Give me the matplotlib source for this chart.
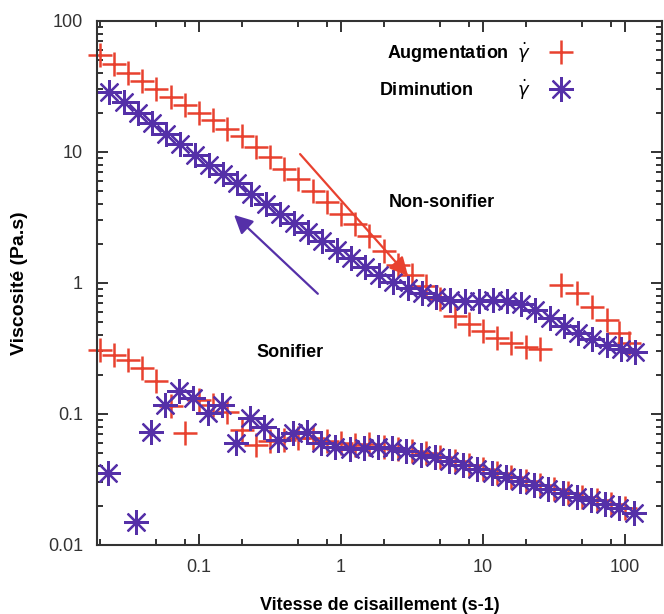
import matplotlib
matplotlib.use("Agg")
import matplotlib.pyplot as plt
from matplotlib.lines import Line2D
from matplotlib.ticker import LogLocator, NullFormatter, FixedLocator, FixedFormatter

# shear rates (s-1) for the "augmentation" (red) runs
rate_up = [0.0200, 0.0251, 0.0316, 0.0398, 0.0501, 0.0631, 0.0794, 0.100,
           0.126, 0.158, 0.200, 0.251, 0.316, 0.398, 0.501, 0.631, 0.794,
           1.00, 1.26, 1.58, 2.00, 2.51, 3.16, 3.98, 5.01, 6.31, 7.94, 10.0,
           12.6, 15.8, 20.0, 25.1]
# non-sonified, increasing rate
visc_up_ns = [55.0, 46.8, 39.8, 34.7, 30.2, 26.3, 22.9, 20.0, 17.4, 15.1, 13.2,
              11.0, 9.12, 7.41, 6.17, 5.01, 4.17, 3.39, 2.82, 2.29, 1.74, 1.38,
              1.15, 0.955, 0.759, 0.562, 0.490, 0.427, 0.380, 0.347, 0.324, 0.316]
# second red branch at high rate
rate_up_hi = [35.5, 45.7, 58.9, 74.1, 91.2, 107]
visc_up_hi = [0.966, 0.839, 0.656, 0.522, 0.415, 0.348]

# sonified, increasing rate
rate_up_s = [0.0200, 0.0251, 0.0316, 0.0398, 0.0501, 0.0631, 0.0794, 0.100,
             0.126, 0.158, 0.200, 0.251, 0.316, 0.398, 0.501, 0.631, 0.794,
             1.00, 1.26, 1.58, 2.00, 2.51, 3.16, 3.98, 5.01, 6.31, 7.94, 10.0,
             12.6, 15.8, 20.0, 25.1, 31.6, 39.8, 50.1, 63.1, 79.4, 100]
visc_up_s = [0.310, 0.282, 0.257, 0.224, 0.180, 0.115, 0.0716, 0.129, 0.117,
             0.104, 0.0759, 0.0575, 0.0617, 0.0631, 0.0661, 0.0661, 0.0617,
             0.0603, 0.0575, 0.0589, 0.0562, 0.0537, 0.0525, 0.0501, 0.0468,
             0.0437, 0.0407, 0.0380, 0.0355, 0.0331, 0.0309, 0.0288, 0.0269,
             0.0251, 0.0234, 0.0219, 0.0204, 0.0191]

# "diminution" (purple) runs
rate_down = [0.0234, 0.0295, 0.0372, 0.0468, 0.0589, 0.0741, 0.0933, 0.117,
             0.148, 0.186, 0.234, 0.295, 0.372, 0.468, 0.589, 0.741, 0.933,
             1.17, 1.48, 1.86, 2.34, 2.95, 3.72, 4.68, 5.89, 7.41, 9.33, 11.7,
             14.8, 18.6, 23.4, 29.5, 37.2, 46.8, 58.9, 74.1, 93.3, 117]
visc_down_ns = [28.8, 24.0, 20.0, 16.6, 13.8, 11.5, 9.55, 7.94, 6.76, 5.75,
                4.79, 3.98, 3.39, 2.88, 2.45, 2.09, 1.78, 1.55, 1.32, 1.15, 1.02,
                0.912, 0.832, 0.776, 0.741, 0.724, 0.724, 0.741, 0.724, 0.692,
                0.617, 0.537, 0.468, 0.417, 0.372, 0.339, 0.316, 0.295]

rate_down_s = [0.0229, 0.0363, 0.0457, 0.0575, 0.0724, 0.0912, 0.115, 0.145,
               0.182, 0.229, 0.288, 0.363, 0.457, 0.575, 0.724, 0.912, 1.15,
               1.45, 1.82, 2.29, 2.88, 3.63, 4.57, 5.75, 7.24, 9.12, 11.5, 14.5,
               18.2, 22.9, 28.8, 36.3, 45.7, 57.5, 72.4, 91.2, 115]
visc_down_s = [0.0355, 0.0151, 0.0724, 0.117, 0.151, 0.132, 0.102, 0.117,
               0.0603, 0.0933, 0.0794, 0.0631, 0.0716, 0.0724, 0.0603, 0.0562,
               0.0537, 0.0550, 0.0562, 0.0550, 0.0525, 0.0490, 0.0468, 0.0437,
               0.0407, 0.0380, 0.0355, 0.0331, 0.0309, 0.0288, 0.0269, 0.0251,
               0.0234, 0.0219, 0.0204, 0.0191, 0.0174]

x_ticks = [0.1, 1, 10, 100]
x_labels = ["0.1", "1", "10", "100"]
y_ticks = [0.01, 0.1, 1, 10, 100]
y_labels = ["0.01", "0.1", "1", "10", "100"]

RED = "#e8412f"
PURPLE = "#5530a8"
AX_COL = "#333333"
BOLD = {"family": "Liberation Sans", "weight": "bold"}

fig = plt.figure(figsize=(6.64, 6.14), dpi=100)
ax = fig.add_axes([0.146, 0.1124, 0.851, 0.8534])

plus_kw = dict(linestyle="none", marker="+", markersize=17, markeredgewidth=1.8,
               color=RED, clip_on=False)
star_kw = dict(linestyle="none", marker=(8, 2, 0), markersize=18,
               markeredgewidth=1.6, color=PURPLE, clip_on=False)

ax.plot(rate_up, visc_up_ns, **plus_kw)
ax.plot(rate_up_hi, visc_up_hi, **plus_kw)
ax.plot(rate_up_s, visc_up_s, **plus_kw)
ax.plot(rate_down, visc_down_ns, **star_kw)
ax.plot(rate_down_s, visc_down_s, **star_kw)

ax.set_xscale("log")
ax.set_yscale("log")
ax.set_xlim(0.01914, 182)
ax.set_ylim(0.01, 100)

ax.xaxis.set_major_locator(FixedLocator(x_ticks))
ax.xaxis.set_major_formatter(FixedFormatter(x_labels))
ax.xaxis.set_minor_locator(LogLocator(base=10, subs=[2, 5, 8]))
ax.xaxis.set_minor_formatter(NullFormatter())
ax.yaxis.set_major_locator(FixedLocator(y_ticks))
ax.yaxis.set_major_formatter(FixedFormatter(y_labels))
ax.yaxis.set_minor_locator(LogLocator(base=10, subs=range(2, 10)))
ax.yaxis.set_minor_formatter(NullFormatter())

ax.tick_params(which="both", direction="in", top=True, right=True,
               color=AX_COL, width=1.4)
ax.tick_params(which="major", length=8, labelsize=13, labelcolor=AX_COL, pad=10)
ax.tick_params(which="minor", length=4)
for lab in ax.get_xticklabels() + ax.get_yticklabels():
    lab.set_family("Liberation Sans")
for sp in ax.spines.values():
    sp.set_color(AX_COL)
    sp.set_linewidth(1.5)

ax.set_xlabel("Vitesse de cisaillement (s-1)", fontsize=13, labelpad=15, **BOLD)
ax.set_ylabel("Viscosité (Pa.s)", fontsize=14, labelpad=14, **BOLD)

# arrows and annotations
ax.annotate("", xy=(3.06, 1.09), xytext=(0.50, 10.0),
            arrowprops=dict(arrowstyle="-|>", color=RED, lw=1.6, mutation_scale=28))
ax.annotate("", xy=(0.171, 3.42), xytext=(0.71, 0.80),
            arrowprops=dict(arrowstyle="-|>", color=PURPLE, lw=1.6, mutation_scale=28))
ax.text(5.14, 4.15, "Non-sonifier", ha="center", va="center", fontsize=13, **BOLD)
ax.text(0.437, 0.297, "Sonifier", ha="center", va="center", fontsize=13, **BOLD)

handles = [Line2D([], [], **plus_kw), Line2D([], [], **star_kw)]
labels = [r"Augmentation  $\dot{\gamma}$", r"Diminution         $\dot{\gamma}$"]
ax.legend(handles, labels, loc="upper left", bbox_to_anchor=(0.483, 0.98),
          frameon=False, markerfirst=False, numpoints=1, handlelength=1.5,
          handletextpad=0.9, labelspacing=0.7, borderpad=0,
          prop={"family": "Liberation Sans", "weight": "bold", "size": 13})

fig.savefig("out.png", dpi=100)
